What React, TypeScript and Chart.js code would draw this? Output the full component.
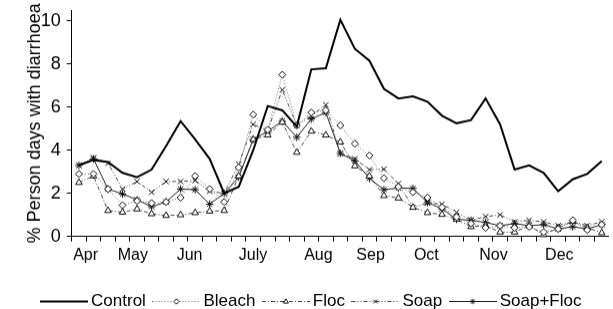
import React, { useEffect, useRef } from 'react';
import { Chart, registerables } from 'chart.js';

Chart.register(...registerables);

const FONT = "'Liberation Sans', Arial, Helvetica, sans-serif";

// ---- data ----
const seriesNames = ['Control', 'Bleach', 'Floc', 'Soap', 'Soap+Floc'];

const control = [3.3, 3.55, 3.45, 2.95, 2.75, 3.1, 4.2, 5.35, 4.5, 3.6, 2.0, 2.3, 4.0, 6.05, 5.85, 5.1, 7.75, 7.8, 10.05, 8.7, 8.15, 6.85, 6.4, 6.5, 6.25, 5.6, 5.25, 5.4, 6.4, 5.2, 3.1, 3.3, 2.95, 2.1, 2.65, 2.9, 3.5];
const bleach = [2.9, 2.9, 2.2, 1.45, 1.65, 1.55, 1.6, 1.8, 2.8, 2.2, 1.6, 3.2, 5.65, 4.95, 7.5, 5.15, 5.75, 5.85, 5.15, 4.3, 3.75, 2.7, 2.3, 2.05, 1.8, 1.35, 0.9, 0.6, 0.4, 0.5, 0.4, 0.45, 0.2, 0.35, 0.75, 0.3, 0.55];
const floc = [2.5, 2.8, 1.2, 1.12, 1.27, 1.05, 0.97, 1.0, 1.1, 1.17, 1.2, 2.8, 4.5, 4.7, 5.3, 3.9, 4.88, 4.7, 4.38, 3.27, 2.8, 1.89, 1.78, 1.35, 1.1, 1.02, 0.8, 0.45, 0.5, 0.2, 0.2, 0.5, 0.08, 0.4, 0.7, 0.4, 0.17];
const soap = [3.3, 3.65, 3.4, 2.2, 2.55, 2.05, 2.55, 2.55, 2.6, 2.1, 2.0, 3.35, 5.2, 4.9, 6.8, 5.15, 5.6, 6.1, 3.85, 3.6, 3.1, 3.12, 2.45, 1.35, 1.55, 1.5, 1.12, 0.75, 0.92, 1.0, 0.68, 0.75, 0.68, 0.5, 0.7, 0.5, 0.68];
const soapFloc = [3.3, 3.6, 2.2, 1.97, 1.7, 1.38, 1.6, 2.2, 2.17, 1.5, 2.0, 2.75, 4.5, 4.88, 5.35, 4.6, 5.45, 5.75, 3.85, 3.5, 2.7, 2.17, 2.25, 2.23, 1.58, 1.28, 0.8, 0.75, 0.65, 0.5, 0.6, 0.5, 0.55, 0.35, 0.45, 0.35, 0.55];

const yTicks = [0, 2, 4, 6, 8, 10];
const monthLabels = ['Apr', 'May', 'Jun', 'July', 'Aug', 'Sep', 'Oct', 'Nov', 'Dec'];
const monthPositions = [0.46, 3.71, 7.62, 11.99, 16.49, 20.08, 23.92, 28.54, 33.08];

// ---- styles ----
type SeriesStyle = { color: string; width: number; dash: number[]; marker: string; radius: number; fill: string };
const styles: SeriesStyle[] = [
  { color: '#000000', width: 2, dash: [], marker: 'none', radius: 0, fill: '#fff' },
  { color: '#6a6a6a', width: 1, dash: [1, 2], marker: 'rectRot', radius: 3.5, fill: '#fff' },
  { color: '#4a4a4a', width: 1, dash: [4, 2, 1, 2], marker: 'triangle', radius: 3.8, fill: '#fff' },
  { color: '#4a4a4a', width: 1, dash: [4, 2, 1, 2, 1, 2], marker: 'crossRot', radius: 3.8, fill: '#fff' },
  { color: '#222222', width: 1, dash: [], marker: 'star', radius: 3.8, fill: '#fff' },
];

const LEGEND_BOX = 37;
const LEGEND_OVER = 5.5;

function drawMarker(ctx: CanvasRenderingContext2D, marker: string, x: number, y: number, r: number) {
  ctx.setLineDash([]);
  ctx.lineWidth = 1;
  ctx.strokeStyle = '#111';
  ctx.fillStyle = '#fff';
  ctx.beginPath();
  if (marker === 'rectRot') {
    ctx.moveTo(x, y - r); ctx.lineTo(x + r, y); ctx.lineTo(x, y + r); ctx.lineTo(x - r, y); ctx.closePath();
    ctx.fill(); ctx.stroke();
  } else if (marker === 'triangle') {
    ctx.moveTo(x, y - r); ctx.lineTo(x + r * 0.9, y + r * 0.6); ctx.lineTo(x - r * 0.9, y + r * 0.6); ctx.closePath();
    ctx.fill(); ctx.stroke();
  } else if (marker === 'crossRot' || marker === 'star') {
    const d = r * 0.7071;
    ctx.moveTo(x - d, y - d); ctx.lineTo(x + d, y + d);
    ctx.moveTo(x + d, y - d); ctx.lineTo(x - d, y + d);
    if (marker === 'star') {
      ctx.moveTo(x - r, y); ctx.lineTo(x + r, y);
      ctx.moveTo(x, y - r); ctx.lineTo(x, y + r);
    }
    ctx.stroke();
  }
}

function legendSample(s: SeriesStyle): HTMLCanvasElement {
  const c = document.createElement('canvas');
  const w = LEGEND_BOX + 2 * LEGEND_OVER;
  c.width = w;
  c.height = 12;
  const ctx = c.getContext('2d')!;
  ctx.strokeStyle = s.color;
  ctx.lineWidth = s.width;
  ctx.setLineDash(s.dash);
  ctx.beginPath();
  ctx.moveTo(0, 6.5);
  ctx.lineTo(w, 6.5);
  ctx.stroke();
  if (s.marker !== 'none') drawMarker(ctx, s.marker, w / 2, 6.5, 2.7);
  return c;
}

const xBoundaries = control.map((_, i) => i - 0.5);

export default function App() {
  const ref = useRef<HTMLCanvasElement | null>(null);

  useEffect(() => {
    if (!ref.current) return;
    const allSeries = [control, bleach, floc, soap, soapFloc];
    const samples = styles.map(legendSample);
    const chart = new Chart(ref.current, {
      type: 'line',
      data: {
        datasets: allSeries.map((vals, k) => ({
          label: seriesNames[k],
          data: vals.map((v, i) => ({ x: i, y: v })),
          borderColor: styles[k].color,
          borderWidth: styles[k].width,
          borderDash: styles[k].dash,
          pointStyle: styles[k].marker === 'none' ? false : (styles[k].marker as any),
          pointRadius: styles[k].radius,
          pointBorderColor: '#111',
          pointBackgroundColor: styles[k].fill,
          pointBorderWidth: 1,
          tension: 0,
          fill: false,
          clip: false as any,
        })),
      },
      options: {
        animation: false,
        responsive: true,
        maintainAspectRatio: false,
        layout: { padding: { top: 10, left: 14, right: 0, bottom: 0 } },
        plugins: {
          tooltip: { enabled: false },
          legend: {
            display: true,
            position: 'bottom',
            labels: {
              usePointStyle: true,
              pointStyleWidth: LEGEND_BOX,
              padding: 12,
              color: '#000',
              font: { family: FONT, size: 17 },
              generateLabels: (ch: any) => {
                const items = Chart.defaults.plugins.legend.labels.generateLabels(ch);
                return items.map((it: any, i: number) => ({ ...it, pointStyle: samples[i], lineWidth: 0 }));
              },
            },
          },
        },
        scales: {
          x: {
            type: 'linear',
            position: 'bottom',
            min: -0.5,
            max: 36.43,
            weight: 0,
            afterBuildTicks: (s: any) => { s.ticks = xBoundaries.map((v) => ({ value: v })); },
            ticks: { display: false },
            grid: { drawOnChartArea: false, drawTicks: true, tickLength: 5, color: '#000', lineWidth: 1 },
            border: { display: true, color: '#000', width: 1 },
            afterFit: (s: any) => { s.height = 5; s.paddingLeft = 0; s.paddingRight = 0; },
          },
          x2: {
            type: 'linear',
            position: 'bottom',
            min: -0.5,
            max: 36.43,
            weight: 1,
            afterBuildTicks: (s: any) => { s.ticks = monthPositions.map((v) => ({ value: v })); },
            ticks: {
              autoSkip: false,
              maxRotation: 0,
              minRotation: 0,
              padding: 4,
              color: '#000',
              font: { family: FONT, size: 16 },
              callback: (_v: any, i: number) => monthLabels[i],
            },
            grid: { display: false, drawTicks: false },
            border: { display: false },
            afterFit: (s: any) => { s.height = 38.8; s.paddingLeft = 0; s.paddingRight = 0; },
          },
          y: {
            type: 'linear',
            min: 0,
            max: 10.5,
            afterBuildTicks: (s: any) => { s.ticks = yTicks.map((v) => ({ value: v })); },
            ticks: { color: '#000', padding: 6, font: { family: FONT, size: 18 } },
            grid: { drawOnChartArea: false, drawTicks: true, tickLength: 5, color: '#000', lineWidth: 1 },
            border: { display: true, color: '#000', width: 1 },
            title: {
              display: true,
              text: '% Person days with diarrhoea',
              color: '#000',
              font: { family: FONT, size: 18 },
              padding: { top: 10, bottom: 0 },
            },
            afterFit: (s: any) => { s.width = 57.7; s.paddingTop = 0; s.paddingBottom = 0; },
          },
        },
      } as any,
    });
    return () => chart.destroy();
  }, []);

  return (
    <div style={{ position: 'fixed', left: 0, top: 0, width: 613, height: 309, overflow: 'hidden', background: '#fff' }}>
      <div style={{ position: 'relative', width: 613, height: 318.5 }}>
        <canvas ref={ref} />
      </div>
    </div>
  );
}
